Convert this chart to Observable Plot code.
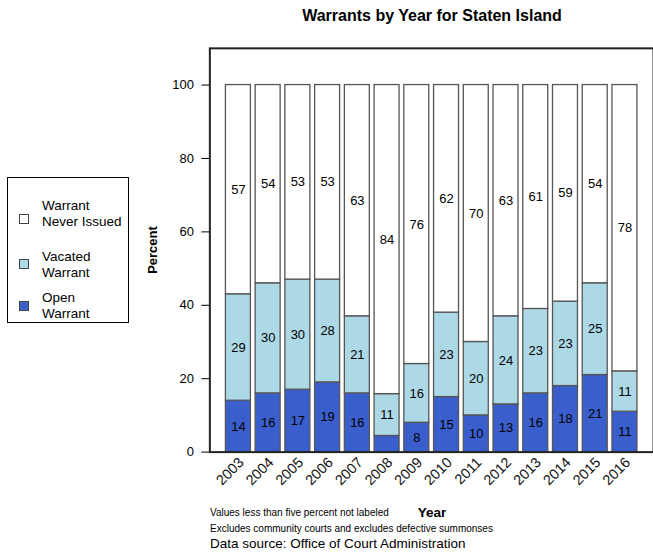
<!DOCTYPE html>
<html><head><meta charset="utf-8">
<script src="https://cdn.jsdelivr.net/npm/d3@7"></script>
<script src="https://cdn.jsdelivr.net/npm/@observablehq/plot@0.6"></script>
<style>
html,body{margin:0;padding:0;background:#fff;overflow:hidden;}
#wrap{position:relative;width:653px;height:556px;overflow:hidden;font-family:"Liberation Sans",Arial,Helvetica,sans-serif;color:#000;background:#fff;}
.t{position:absolute;white-space:nowrap;line-height:1;}
#chart{position:absolute;left:0;top:0;}
</style></head><body><div id="wrap"><div id="chart"></div></div>
<script>
const years = ["2003","2004","2005","2006","2007","2008","2009","2010","2011","2012","2013","2014","2015","2016"];
const openWarrant    = [14, 16, 17, 19, 16, 4.4, 8, 15, 10, 13, 16, 18, 21, 11];
const vacatedWarrant = [29, 30, 30, 28, 21, 11.4, 16, 23, 20, 24, 23, 23, 25, 11];
const neverIssued    = [57, 54, 53, 53, 63, 84.2, 76, 62, 70, 63, 61, 59, 54, 78];
const seriesNames  = ["Open Warrant", "Vacated Warrant", "Warrant Never Issued"];
const seriesColors = ["#3A5FCD", "#ADD8E6", "#FFFFFF"];
const yTicks = [0, 20, 40, 60, 80, 100];
const titleText = "Warrants by Year for Staten Island";
const notes = ["Values less than five percent not labeled", "Excludes community courts and excludes defective summonses", "Data source: Office of Court Administration"];

const rows = [];
years.forEach((yr, i) => {
  rows.push({year: yr, type: seriesNames[0], value: openWarrant[i]});
  rows.push({year: yr, type: seriesNames[1], value: vacatedWarrant[i]});
  rows.push({year: yr, type: seriesNames[2], value: neverIssued[i]});
});

const FONT = '"Liberation Sans", Arial, Helvetica, sans-serif';

const plot = Plot.plot({
  width: 655, height: 556,
  marginTop: 48, marginLeft: 210, marginRight: 0, marginBottom: 103,
  style: {fontFamily: FONT, fontSize: "13px", background: "transparent", color: "#000"},
  x: {type: "band", domain: years, paddingInner: 0.16, paddingOuter: 0.54, round: false},
  y: {domain: [0, 110]},
  color: {domain: seriesNames, range: seriesColors},
  marks: [
    Plot.barY(rows, {x: "year", y: "value", z: "type", fill: "type", stroke: "#555", strokeWidth: 1.3}),
    Plot.text(rows, Plot.stackY({x: "year", y: "value", z: "type",
      text: d => d.value >= 5 ? String(Math.round(d.value)) : "",
      fontSize: 13, fill: "#000"})),
    Plot.axisY({ticks: yTicks, tickSize: 8, tickPadding: 8, label: null, fontSize: 13}),
    Plot.axisX({tickSize: 0, tickRotate: -45, tickPadding: 8, dx: 3, label: null, fontSize: 14.5, fill: "#111"}),
    Plot.frame({stroke: "#222", strokeWidth: 2})
  ]
});
document.getElementById("chart").appendChild(plot);

const wrap = document.getElementById("wrap");
function addText(txt, x, y, style, align) {
  const d = document.createElement("div");
  d.className = "t";
  d.textContent = txt;
  d.style.left = x + "px";
  d.style.top = y + "px";
  d.style.transform = align === "center" ? "translate(-50%,-50%)" : align === "rot" ? "translate(-50%,-50%) rotate(-90deg)" : "translateY(-50%)";
  Object.assign(d.style, style || {});
  wrap.appendChild(d);
  return d;
}

addText(titleText, 432, 16, {fontSize: "16px", fontWeight: "bold"}, "center");
addText("Percent", 152, 250, {fontSize: "13px", fontWeight: "bold"}, "rot");
addText("Year", 432, 512.5, {fontSize: "13.5px", fontWeight: "bold"}, "center");
addText(notes[0], 210, 513, {fontSize: "10px"});
addText(notes[1], 210, 529, {fontSize: "10px"});
addText(notes[2], 210, 543.5, {fontSize: "13.5px"});

// legend
const box = document.createElement("div");
Object.assign(box.style, {position: "absolute", left: "7px", top: "177px", width: "122px", height: "146px", border: "1.5px solid #000", boxSizing: "border-box"});
wrap.appendChild(box);
const legendItems = [
  {name: seriesNames[2], lines: ["Warrant", "Never Issued"], sq: 218.5, ly: [206, 222]},
  {name: seriesNames[1], lines: ["Vacated", "Warrant"], sq: 263.5, ly: [257, 273]},
  {name: seriesNames[0], lines: ["Open", "Warrant"], sq: 305.5, ly: [298, 314]}
];
legendItems.forEach(it => {
  const s = document.createElement("div");
  const c = seriesColors[seriesNames.indexOf(it.name)];
  Object.assign(s.style, {position: "absolute", left: "19px", top: (it.sq - 5) + "px", width: "10px", height: "10px", background: c, border: "1px solid #444", boxSizing: "border-box"});
  wrap.appendChild(s);
  it.lines.forEach((ln, k) => addText(ln, 42, it.ly[k], {fontSize: "13.5px"}));
});
</script></body></html>
